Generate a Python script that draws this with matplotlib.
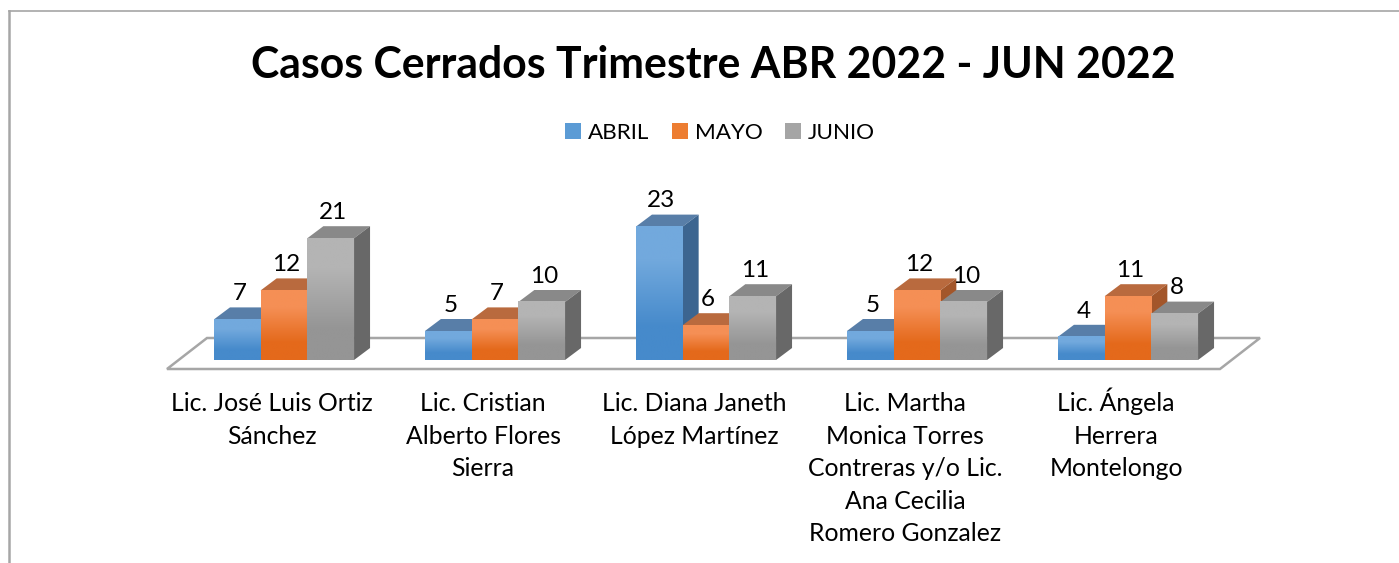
import numpy as np
import matplotlib
matplotlib.use("Agg")
import matplotlib.pyplot as plt
from matplotlib.patches import Polygon, Patch
from matplotlib.colors import to_rgb
from matplotlib.lines import Line2D

plt.rcParams["font.family"] = ["Lato", "DejaVu Sans"]

TITLE = "Casos Cerrados Trimestre ABR 2022 - JUN 2022"
categories = [
    "Lic. José Luis Ortiz\nSánchez",
    "Lic. Cristian\nAlberto Flores\nSierra",
    "Lic. Diana Janeth\nLópez Martínez",
    "Lic. Martha\nMonica Torres\nContreras y/o Lic.\nAna Cecilia\nRomero Gonzalez",
    "Lic. Ángela\nHerrera\nMontelongo",
]
series = ["ABRIL", "MAYO", "JUNIO"]
abril = [7, 5, 23, 5, 4]
mayo = [12, 7, 6, 12, 11]
junio = [21, 10, 11, 10, 8]

# colours per series: front top, front bottom, top face, side face, legend
styles = {
    "ABRIL": ("#72a9dd", "#468acb", "#587ea8", "#3c6590", "#5b9bd5"),
    "MAYO": ("#f58f55", "#e4691b", "#b96a3e", "#a3562a", "#ed7d31"),
    "JUNIO": ("#b4b4b4", "#959595", "#898989", "#686868", "#a5a5a5"),
}

# pixel layout of the reference
W, H = 1399, 563
PX_CAT = 211.0      # distance between groups
X0_PX = 284.0       # centre of first group
PX_UNIT = 5.8       # pixels per case
BASE_PX = 360.0     # front baseline, from top
BAR_PX = 46.7
DEPTH_X = 16 / PX_CAT
DEPTH_Y = 12 / PX_UNIT
LINE_PX = 32.6      # category label line spacing


def px_x(px):
    return (px - X0_PX) / PX_CAT


def px_y(py):
    return (BASE_PX - py) / PX_UNIT


fig = plt.figure(figsize=(W / 100, H / 100), dpi=100)
ax = fig.add_axes([0, 0, 1, 1])
ax.axis("off")

# floor
floor = [(px_x(167), px_y(369)), (px_x(1220), px_y(369)),
         (px_x(1260), px_y(338)), (px_x(207), px_y(338))]
ax.add_patch(Polygon(floor, closed=True, facecolor="white",
                     edgecolor="#a6a6a6", linewidth=1.8, zorder=1))

bw = BAR_PX / PX_CAT
values = {"ABRIL": abril, "MAYO": mayo, "JUNIO": junio}
z = 2
for i in range(len(categories)):
    left = i - 1.5 * bw
    for j, name in enumerate(series):
        v = values[name][i]
        c_top, c_bot, c_lid, c_side, _ = styles[name]
        x0 = left + j * bw
        x1 = x0 + bw
        lid = [(x0, v), (x1, v), (x1 + DEPTH_X, v + DEPTH_Y), (x0 + DEPTH_X, v + DEPTH_Y)]
        side = [(x1, 0), (x1 + DEPTH_X, DEPTH_Y), (x1 + DEPTH_X, v + DEPTH_Y), (x1, v)]
        ax.add_patch(Polygon(lid, closed=True, facecolor=c_lid, edgecolor="none", zorder=z))
        ax.add_patch(Polygon(side, closed=True, facecolor=c_side, edgecolor="none", zorder=z))
        grad = np.array([[to_rgb(c_top)], [to_rgb(c_bot)]])
        ax.imshow(grad, extent=(x0, x1, 0, v), origin="upper", aspect="auto",
                  interpolation="bilinear", zorder=z + 0.5)
        z += 1
        ax.annotate(str(v), ((x0 + x1) / 2, v), xytext=(1.5, 18.5),
                    textcoords="offset points", ha="center", va="center",
                    fontsize=17.5, color="black", zorder=50)
    # one text per line, on fixed baselines, so accents do not shift a label
    for k, line in enumerate(categories[i].split("\n")):
        ax.text(i - 12 / PX_CAT, px_y(411 + k * LINE_PX), line, ha="center",
                va="baseline", fontsize=17.8, color="black")

ax.set_xlim(px_x(0), px_x(W))
ax.set_ylim(px_y(H), px_y(0))

fig.text(713 / W, 1 - 78 / H, TITLE, ha="center", va="baseline",
         fontsize=30.8, fontweight="bold", color="black")

handles = [Patch(facecolor=styles[s][4], edgecolor="none") for s in series]
fig.legend(handles, series, loc="center", bbox_to_anchor=(720 / W, 1 - 133 / H),
           ncol=3, frameon=False, fontsize=16.2, handlelength=0.72,
           handleheight=0.72, handletextpad=0.3, columnspacing=1.0)

# chart frame (left and top edges visible)
fig.add_artist(Line2D([8.5 / W, 8.5 / W], [0, 1 - 11 / H], transform=fig.transFigure,
                      color="#a6a6a6", linewidth=1.8))
fig.add_artist(Line2D([8.5 / W, 1], [1 - 11 / H, 1 - 11 / H], transform=fig.transFigure,
                      color="#a6a6a6", linewidth=1.2))

fig.savefig("out.png", dpi=100)
